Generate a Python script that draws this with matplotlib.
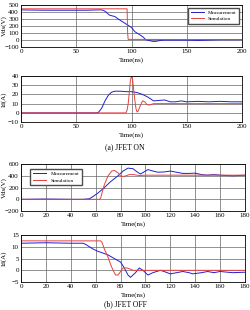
import matplotlib
matplotlib.use("Agg")
import matplotlib.pyplot as plt
import numpy as np

plt.rcParams['font.family'] = ['Liberation Serif', 'DejaVu Serif']

# Panel (a) Vds ON
on_vds_meas_t = [0, 20, 40, 60, 70, 73, 75, 77, 80, 85, 88, 92, 96, 100, 103, 106, 110, 113, 117, 120, 123, 126, 130, 140, 150, 160, 170, 180, 190, 200]
on_vds_meas_v = [430, 425, 425, 425, 430, 430, 420, 400, 355, 335, 300, 260, 220, 180, 120, 90, 50, 5, -10, -20, -15, -5, 0, 0, 0, -5, 0, 5, 5, 5]
on_vds_sim_t = [0, 50, 95, 96, 96.5, 97, 100, 150, 200]
on_vds_sim_v = [445, 445, 445, 445, 100, 10, 10, 8, 8]

# Panel (a) Id ON
on_id_meas_t = [0, 50, 68, 70, 73, 76, 79, 82, 85, 90, 95, 100, 105, 110, 115, 120, 125, 130, 135, 140, 145, 150, 160, 170, 180, 190, 200]
on_id_meas_v = [0, 0, 0, 0.5, 5, 13, 19, 22.5, 23.5, 23.5, 23, 23, 22, 20, 17, 13, 13.5, 14, 12, 12, 13, 12, 12.5, 12, 12.5, 12, 12]
on_id_sim_t = [0, 50, 95, 96, 97, 98, 99, 100, 101, 102, 103, 104, 105, 106, 108, 110, 112, 114, 116, 120, 130, 150, 200]
on_id_sim_v = [0, 0, 0, 3, 10, 22, 35, 40, 36, 25, 14, 5, 1, 2, 8, 13, 12, 9, 8.5, 10, 10, 10, 10]

# Panel (b) Vds OFF
off_vds_meas_t = [0, 20, 40, 50, 55, 58, 62, 67, 72, 78, 82, 86, 90, 93, 96, 100, 102, 106, 110, 115, 120, 125, 130, 135, 140, 145, 150, 155, 160, 170, 180]
off_vds_meas_v = [0, 5, 0, 0, 10, 50, 110, 200, 300, 400, 480, 530, 520, 470, 430, 480, 505, 480, 460, 465, 480, 460, 440, 440, 445, 420, 410, 420, 410, 400, 410]
off_vds_sim_t = [0, 40, 63, 64, 65, 67, 70, 73, 75, 78, 80, 83, 87, 90, 95, 100, 120, 150, 180]
off_vds_sim_v = [0, 0, 0, 20, 100, 250, 400, 480, 490, 450, 395, 390, 420, 420, 405, 410, 410, 410, 410]

# Panel (b) Id OFF
off_id_meas_t = [0, 20, 40, 50, 52, 55, 58, 62, 65, 70, 75, 80, 83, 86, 88, 92, 95, 98, 102, 106, 112, 115, 120, 125, 130, 135, 138, 145, 150, 155, 160, 170, 180]
off_id_meas_v = [11.5, 11.7, 11.5, 11.5, 11, 10, 9, 8, 7.5, 6.5, 5, 3.5, 1, -2, -3, -1, 1, 0, -2, -1, 0, -0.5, -1.5, -1, -0.5, -1, -1.5, -1, -0.5, -1, -0.5, -1, -0.8]
off_id_sim_t = [0, 40, 64, 65, 67, 70, 72, 74, 76, 78, 80, 82, 85, 88, 90, 95, 100, 120, 150, 180]
off_id_sim_v = [12.5, 12.5, 12.5, 12, 9, 5.5, 2.5, 0, -2, -2, -0.5, 1, 1, 0.5, 0, 0, 0, 0, 0, 0]

blue = '#2020d0'
red = '#e84040'
fs = 5

fig = plt.figure(figsize=(2.5, 3.1), dpi=100)

def setup(ax, xlim, xticks, ylim, yticks, ylabel):
    ax.set_xlim(*xlim)
    ax.set_ylim(*ylim)
    ax.set_xticks(xticks)
    ax.set_yticks(yticks)
    ax.tick_params(labelsize=fs, length=0, pad=1.5)
    ax.grid(True, color='0.4', linewidth=0.5)
    ax.set_xlabel('Time(ns)', fontsize=fs, labelpad=2)
    ax.set_ylabel(ylabel, fontsize=fs)
    w = ax.get_position().width * 250
    ax.yaxis.set_label_coords(-14.0 / w, 0.5)
    for s in ax.spines.values():
        s.set_linewidth(0.6)

ax1 = fig.add_axes([0.084, 0.848, 0.884, 0.136])
ax1.plot(on_vds_meas_t, on_vds_meas_v, color=blue, lw=0.7, label='Measurement')
ax1.plot(on_vds_sim_t, on_vds_sim_v, color=red, lw=0.7, label='Simulation')
setup(ax1, (0, 200), [0, 50, 100, 150, 200], (-100, 500), [-100, 0, 100, 200, 300, 400, 500], 'Vds(V)')
ax1.legend(loc='upper right', fontsize=3.8, frameon=True, fancybox=False, edgecolor='0.3',
           framealpha=1, handlelength=2.5, borderpad=0.5, labelspacing=0.3)

ax2 = fig.add_axes([0.084, 0.606, 0.884, 0.149])
ax2.plot(on_id_meas_t, on_id_meas_v, color=blue, lw=0.7)
ax2.plot(on_id_sim_t, on_id_sim_v, color=red, lw=0.7)
setup(ax2, (0, 200), [0, 50, 100, 150, 200], (-10, 40), [-10, 0, 10, 20, 30, 40], 'Id(A)')
fig.text(0.5, 1 - 147 / 310, '(a) JFET ON', ha='center', va='center', fontsize=5.5)

ax3 = fig.add_axes([0.084, 0.319, 0.896, 0.152])
ax3.plot(off_vds_meas_t, off_vds_meas_v, color=blue, lw=0.7, label='Measurement')
ax3.plot(off_vds_sim_t, off_vds_sim_v, color=red, lw=0.7, label='Simulation')
setup(ax3, (0, 180), list(range(0, 181, 20)), (-200, 600), [-200, 0, 200, 400, 600], 'Vds(V)')
ax3.legend(loc='upper left', fontsize=3.8, frameon=True, fancybox=False, edgecolor='0.3',
           framealpha=1, handlelength=2.5, borderpad=0.5, labelspacing=0.3,
           bbox_to_anchor=(0.03, 0.95))

ax4 = fig.add_axes([0.084, 0.090, 0.896, 0.152])
ax4.plot(off_id_meas_t, off_id_meas_v, color=blue, lw=0.7)
ax4.plot(off_id_sim_t, off_id_sim_v, color=red, lw=0.7)
setup(ax4, (0, 180), list(range(0, 181, 20)), (-5, 15), [-5, 0, 5, 10, 15], 'Id(A)')
fig.text(0.5, 1 - 304 / 310, '(b) JFET OFF', ha='center', va='center', fontsize=5.5)

fig.savefig('out.png', dpi=100)
